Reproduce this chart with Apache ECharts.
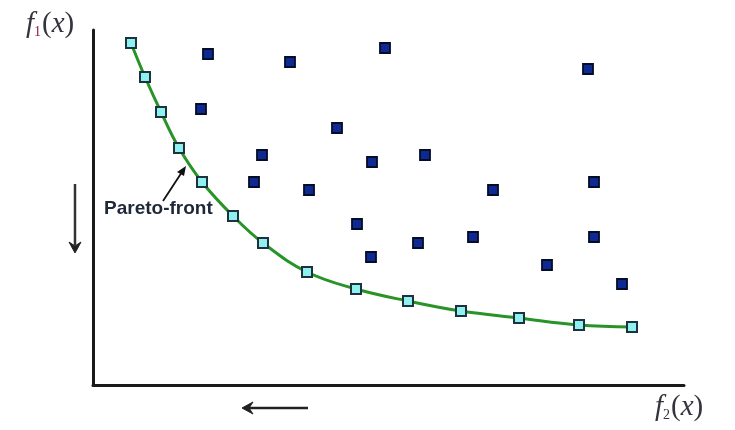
<!DOCTYPE html>
<html>
<head>
<meta charset="utf-8">
<script src="https://cdn.jsdelivr.net/npm/echarts@6/dist/echarts.min.js"></script>
<style>html,body{margin:0;padding:0;background:#fff}#c{width:735px;height:430px}</style>
</head>
<body>
<div id="c"></div>
<script>
// Pareto-front points [f2, f1]
const paretoF2 = [36, 50, 66, 84, 107, 138, 168, 212, 261, 313, 366, 424, 484, 537];
const paretoF1 = [342, 308, 273, 237, 203, 169, 142, 113, 96, 84, 74, 67, 60, 58];
// Dominated solutions [f2, f1]
const otherF2 = [113, 195, 290, 493, 106, 242, 167, 277, 330, 159, 214, 398, 499, 262, 323, 378, 499, 276, 452, 527];
const otherF1 = [331, 323, 337, 316, 276, 257, 230, 223, 230, 203, 195, 195, 203, 161, 142, 148, 148, 128, 120, 101];
const annotation = 'Pareto-front';

const pareto = paretoF2.map((v, i) => [v, paretoF1[i]]);
const others = otherF2.map((v, i) => [v, otherF1[i]]);

const serif = '"Liberation Serif", "DejaVu Serif", serif';
const rich = {
  f: { font: 'italic 29px ' + serif, fill: '#34343e' },
  s1: { font: '14px ' + serif, fill: '#8a2040', padding: [16, 1, 0, 0] },
  s2: { font: '14px ' + serif, fill: '#34343e', padding: [16, 1, 0, 0] },
  p: { font: '29px ' + serif, fill: '#34343e' },
  x: { font: 'italic 29px ' + serif, fill: '#34343e' }
};

const chart = echarts.init(document.getElementById('c'));
chart.setOption({
  animation: false,
  backgroundColor: '#fff',
  grid: { left: 93, right: 51, top: 30, bottom: 45 },
  xAxis: {
    type: 'value', min: -2, max: 589,
    axisLine: { onZero: false, lineStyle: { color: '#1a1a1a', width: 3 } },
    axisTick: { show: false }, axisLabel: { show: false }, splitLine: { show: false }
  },
  yAxis: {
    type: 'value', min: 0, max: 355,
    axisLine: { onZero: false, lineStyle: { color: '#1a1a1a', width: 3 } },
    axisTick: { show: false }, axisLabel: { show: false }, splitLine: { show: false }
  },
  series: [
    {
      type: 'line', data: pareto, smooth: 0.4,
      lineStyle: { color: '#289428', width: 3 },
      symbol: 'rect', symbolSize: 10,
      itemStyle: { color: '#8ff0f0', borderColor: '#1c323c', borderWidth: 2, opacity: 1 },
      z: 3
    },
    {
      type: 'scatter', data: others,
      symbol: 'rect', symbolSize: 10,
      itemStyle: { color: '#0c2a92', borderColor: '#050c26', borderWidth: 1.8, opacity: 1 },
      z: 2
    }
  ],
  graphic: [
    { type: 'text', left: 26, top: 10, style: { rich, text: '{f|f}{s1|1}{p|(}{x|x}{p|)}' } },
    { type: 'text', left: 655, top: 393, style: { rich, text: '{f|f}{s2|2}{p|(}{x|x}{p|)}' } },
    {
      type: 'text', left: 104, top: 199,
      style: { text: annotation, font: 'bold 19px "Liberation Sans", Arial, sans-serif', fill: '#1e2838' }
    },
    { type: 'line', shape: { x1: 163, y1: 201, x2: 182, y2: 172 }, style: { stroke: '#111', lineWidth: 1.8 } },
    { type: 'polygon', shape: { points: [[186, 166], [177, 172], [184, 176]] }, style: { fill: '#111' } },
    { type: 'line', shape: { x1: 75, y1: 184, x2: 75, y2: 245 }, style: { stroke: '#333', lineWidth: 2.5 } },
    { type: 'polygon', shape: { points: [[69, 242], [75, 253], [81, 242], [75, 246]] }, style: { fill: '#222', stroke: '#222', lineWidth: 1 } },
    { type: 'line', shape: { x1: 308, y1: 408, x2: 248, y2: 408 }, style: { stroke: '#222', lineWidth: 2.5 } },
    { type: 'polygon', shape: { points: [[253, 402], [242, 408], [253, 414], [249, 408]] }, style: { fill: '#222', stroke: '#222', lineWidth: 1 } }
  ]
});
</script>
</body>
</html>
